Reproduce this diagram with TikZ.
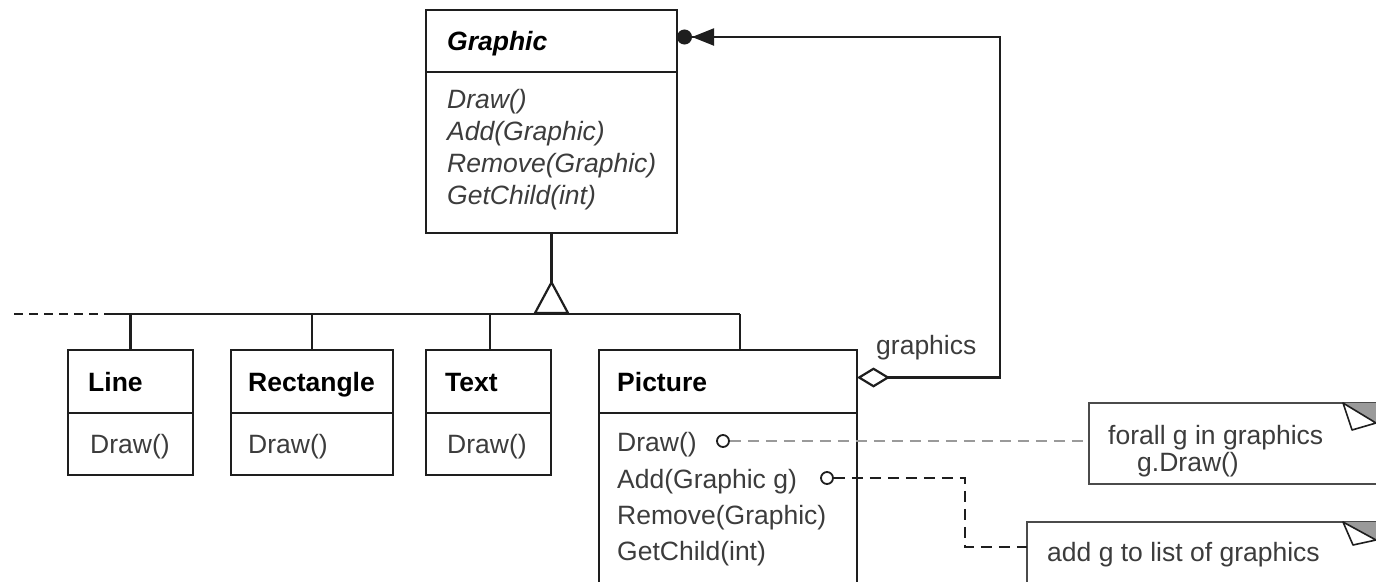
\documentclass[tikz,border=0pt]{standalone}
\usepackage{fontspec}
\setmainfont{Liberation Sans}
\usetikzlibrary{arrows.meta}
\definecolor{ink}{HTML}{1E1E1E}
\definecolor{mtext}{HTML}{3C3C3C}
\definecolor{notegray}{HTML}{9A9A9A}
\begin{document}
\begin{tikzpicture}[x=1pt,y=-1pt,
  cbox/.style={draw=ink, line width=2.2pt, anchor=north west, inner sep=0pt, outer sep=0pt},
  txt/.style={anchor=base west, inner sep=0pt, font=\fontsize{26.5}{31}\selectfont},
  ttl/.style={txt, font=\fontsize{26.5}{31}\selectfont\bfseries, text=black},
  mth/.style={txt, text=mtext},
  conn/.style={draw=ink, line width=2.2pt},
  hdash/.style={conn, dash pattern=on 9pt off 6pt},
  notedash/.style={draw=notegray, line width=2.2pt, dash pattern=on 11pt off 7pt},
  adddash/.style={conn, dash pattern=on 11pt off 7pt},
  pin/.style={circle, draw=ink, line width=1.8pt, fill=white, minimum size=12pt, inner sep=0pt},
  notebox/.style={draw=ink!80, line width=2.2pt, anchor=north west, inner sep=0pt, outer sep=0pt, fill=white}
]
\useasboundingbox (0,0) rectangle (1376,581);
\clip (0,0) rectangle (1376,581);

% Graphic
\node[cbox, minimum width=251pt, minimum height=62pt] (gT) at (426,10) {};
\node[cbox, minimum width=251pt, minimum height=161pt] (gM) at (426,72) {};
\node[ttl, font=\fontsize{26.5}{31}\selectfont\bfseries\itshape] (gName) at (447,50) {Graphic};
\node[mth, font=\fontsize{26.5}{31}\selectfont\itshape] (gm1) at (447,108) {Draw()};
\node[mth, font=\fontsize{26.5}{31}\selectfont\itshape] (gm2) at (447,140) {Add(Graphic)};
\node[mth, font=\fontsize{26.5}{31}\selectfont\itshape] (gm3) at (447,172) {Remove(Graphic)};
\node[mth, font=\fontsize{26.5}{31}\selectfont\itshape] (gm4) at (447,204) {GetChild(int)};

% Line
\node[cbox, minimum width=125pt, minimum height=63pt] (lT) at (68,350) {};
\node[cbox, minimum width=125pt, minimum height=62pt] (lM) at (68,413) {};
\node[ttl] (lName) at (88,391) {Line};
\node[mth] (lm1) at (90,453) {Draw()};

% Rectangle
\node[cbox, minimum width=162pt, minimum height=63pt] (rT) at (231,350) {};
\node[cbox, minimum width=162pt, minimum height=62pt] (rM) at (231,413) {};
\node[ttl] (rName) at (248,391) {Rectangle};
\node[mth] (rm1) at (248,453) {Draw()};

% Text
\node[cbox, minimum width=125pt, minimum height=63pt] (tT) at (426,350) {};
\node[cbox, minimum width=125pt, minimum height=62pt] (tM) at (426,413) {};
\node[ttl] (tName) at (445,391) {Text};
\node[mth] (tm1) at (447,453) {Draw()};

% Picture
\node[cbox, minimum width=258pt, minimum height=63pt] (pT) at (599,350) {};
\node[cbox, minimum width=258pt, minimum height=200pt] (pM) at (599,413) {};
\node[ttl] (pName) at (617,391) {Picture};
\node[mth] (pm1) at (617,451) {Draw()};
\node[mth] (pm2) at (617,488) {Add(Graphic g)};
\node[mth] (pm3) at (617,524) {Remove(Graphic)};
\node[mth] (pm4) at (617,560) {GetChild(int)};

% inheritance
\coordinate (busD) at (14,314);
\coordinate (busL) at (105,314);
\coordinate (busR) at (740,314);
\draw[hdash] (busD) -- (busL);
\draw[conn] (busL) -- (busR);
\draw[conn, -{Triangle[open, reversed, fill=white, length=34pt, width=36pt]}] (gM.south) -- (gM.south |- busR);
\draw[conn] (lT.north |- busR) -- (lT.north);
\draw[conn] (rT.north |- busR) -- (rT.north);
\draw[conn] ([xshift=1.5pt]tT.north |- busR) -- ([xshift=1.5pt]tT.north);
\draw[conn] (busR) -- (busR |- pT.north);

% aggregation
\coordinate (corner) at (1000,37);
\draw[conn, {Diamond[open, fill=white, length=33pt, width=20pt]}-{Triangle[length=22pt, width=17pt] Circle[length=15pt]}]
  ([yshift=4pt]pT.east) -| (corner) -- (corner -| gT.east);
\node[txt, text=mtext] (aggLabel) at (876,354) {graphics};

% notes
\node[notebox, minimum width=310pt, minimum height=81pt] (n1) at (1089,403) {};
\fill[notegray] (1343,403) -- (1400,403) -- (1400,437) -- cycle;
\draw[ink, line width=1.6pt, fill=white, line join=round] (1343,403) -- (1352,430) -- (1376,423) -- cycle;
\node[txt, text=mtext] (n1a) at (1108,444) {forall g in graphics};
\node[txt, text=mtext] (n1b) at (1137,471) {g.Draw()};

\node[notebox, minimum width=370pt, minimum height=100pt] (n2) at (1027,522) {};
\fill[notegray] (1343,522) -- (1400,522) -- (1400,553) -- cycle;
\draw[ink, line width=1.6pt, fill=white, line join=round] (1343,522) -- (1353,545) -- (1376,540) -- cycle;
\node[txt, text=mtext] (n2a) at (1047,561) {add g to list of graphics};

% note connectors
\node[pin] (c1) at (723,441) {};
\node[pin] (c2) at (827,478) {};
\draw[notedash] (c1.east) -- (c1 -| n1.west);
\coordinate (k) at (965,547);
\draw[adddash] (c2.east) -| (k) -- (k -| n2.west);
\end{tikzpicture}
\end{document}
